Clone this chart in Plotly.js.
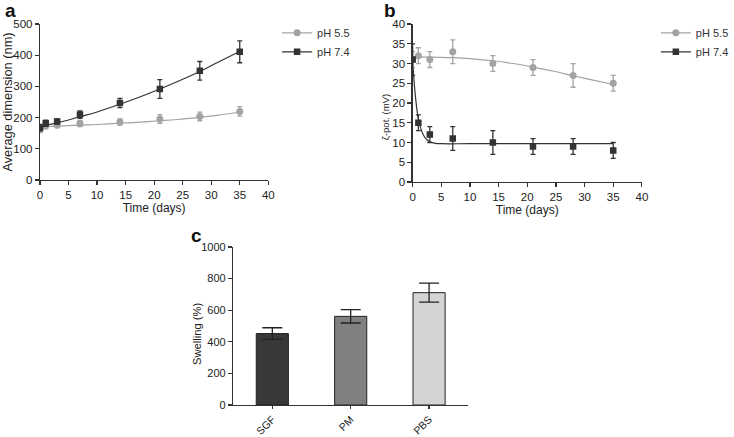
<!DOCTYPE html>
<html><head><meta charset="utf-8">
<script src="https://cdn.plot.ly/plotly-3.0.1.min.js"></script>
<style>html,body{margin:0;padding:0;background:#fff}#chart{width:734px;height:437px}</style>
</head><body><div id="chart"></div>
<script>
// Panel a: average dimension (nm)
const daysA = [0, 1, 3, 7, 14, 21, 28, 35];
const sizePH55 = [162, 174, 176, 181, 186, 196, 204, 220];
const sizePH55Err = [10, 10, 8, 10, 10, 14, 14, 15];
const sizePH74 = [168, 182, 188, 210, 247, 292, 350, 411];
const sizePH74Err = [10, 10, 8, 12, 15, 30, 30, 35];
const fitADays = [0, 3, 7, 10, 14, 17, 21, 24, 28, 31, 35];
const fitA55 = [171, 173, 176, 178, 182, 185, 190, 194, 201, 207, 218];
const fitA74 = [172, 183, 203, 218, 243, 263, 292, 315, 348, 376, 412];

// Panel b: zeta potential (mV)
const daysB = [0, 1, 3, 7, 14, 21, 28, 35];
const zetaPH55 = [31, 32, 31, 33, 30, 29, 27, 25];
const zetaPH55Err = [2, 2, 2, 3, 2, 2, 3, 2];
const zetaPH74 = [31, 15, 12, 11, 10, 9, 9, 8];
const zetaPH74Err = [4, 2, 2, 3, 3, 2, 2, 2];
const fitBDays = [0, 3.5, 7, 10.5, 14, 17.5, 21, 24.5, 28, 31.5, 35];
const fitB55 = [31.7, 31.6, 31.5, 31.2, 30.7, 30.0, 29.1, 28.1, 26.9, 25.8, 24.7];
const fitBDays74 = [0, 0.25, 0.5, 0.75, 1, 1.5, 2, 2.5, 3, 4, 5, 10, 20, 35];
const fitB74 = [31, 25.5, 21.5, 18.3, 16, 13.2, 11.6, 10.7, 10.2, 9.8, 9.7, 9.7, 9.7, 9.7];

// Panel c: swelling (%)
const media = ['SGF', 'PM', 'PBS'];
const swelling = [452, 561, 711];
const swellingErr = [37, 42, 60];
const barColors = ['#383838', '#808080', '#d4d4d4'];

const GRAY = '#a3a3a3', DARK = '#333333';
const FONT = 'Liberation Sans, Arial, sans-serif';

function gapped(xs, ys, es) {
  const x = [], y = [], e = [];
  xs.forEach((v, i) => { x.push(v, null); y.push(ys[i], null); e.push(es[i], 0); });
  return {x, y, e};
}
function dataTrace(xs, ys, es, name, color, sym, xa, ya, leg) {
  const g = gapped(xs, ys, es);
  return {x: g.x, y: g.y, type: 'scatter', mode: 'lines+markers', connectgaps: false, name,
    xaxis: xa, yaxis: ya, legend: leg,
    line: {color, width: 1.2},
    marker: {color, symbol: sym, size: sym === 'square' ? 6.5 : 7},
    error_y: {type: 'data', array: g.e, visible: true, color, thickness: 1.3, width: 2.5}};
}
function fitTrace(xs, ys, color, xa, ya) {
  return {x: xs, y: ys, type: 'scatter', mode: 'lines', line: {color, width: 1.2, shape: 'spline'},
    xaxis: xa, yaxis: ya, showlegend: false, hoverinfo: 'skip'};
}

const traces = [
  fitTrace(fitADays, fitA55, GRAY, 'x', 'y'),
  fitTrace(fitADays, fitA74, DARK, 'x', 'y'),
  dataTrace(daysA, sizePH55, sizePH55Err, 'pH 5.5', GRAY, 'circle', 'x', 'y', 'legend'),
  dataTrace(daysA, sizePH74, sizePH74Err, 'pH 7.4', DARK, 'square', 'x', 'y', 'legend'),
  fitTrace(fitBDays, fitB55, GRAY, 'x2', 'y2'),
  fitTrace(fitBDays74, fitB74, DARK, 'x2', 'y2'),
  dataTrace(daysB, zetaPH55, zetaPH55Err, 'pH 5.5', GRAY, 'circle', 'x2', 'y2', 'legend2'),
  dataTrace(daysB, zetaPH74, zetaPH74Err, 'pH 7.4', DARK, 'square', 'x2', 'y2', 'legend2'),
  {x: media, y: swelling, type: 'bar', xaxis: 'x3', yaxis: 'y3', showlegend: false, width: 0.41,
    marker: {color: barColors, line: {color: '#222', width: 1}},
    error_y: {type: 'data', array: swellingErr, visible: true, color: '#222', thickness: 1.3, width: 10}}
];

const axBase = {showgrid: false, zeroline: false, showline: true, linecolor: '#333', linewidth: 1.2,
  ticks: 'outside', ticklen: 4, tickcolor: '#333', tickwidth: 1.2,
  tickfont: {family: FONT, size: 11.5, color: '#222'}};
const tTitle = (t, s, so) => ({text: t, font: {family: FONT, size: s || 12, color: '#222'}, standoff: so === undefined ? 3 : so});
const vTitle = (t, x, y, s) => ({text: t, x, y, xref: 'paper', yref: 'paper', xanchor: 'center', yanchor: 'middle',
  textangle: -90, showarrow: false, font: {family: FONT, size: s, color: '#222'}});

const layout = {
  width: 734, height: 437, margin: {l: 0, r: 0, t: 0, b: 0},
  paper_bgcolor: '#fff', plot_bgcolor: '#fff', showlegend: true,
  xaxis: Object.assign({}, axBase, {domain: [0.0559, 0.3747], range: [0, 40], dtick: 5, anchor: 'y', title: tTitle('Time (days)')}),
  yaxis: Object.assign({}, axBase, {domain: [0.588, 0.945], range: [0, 500], dtick: 100, anchor: 'x', title: tTitle('Average dimension (nm)', 12.8, 2)}),
  xaxis2: Object.assign({}, axBase, {domain: [0.5763, 0.8965], range: [0, 40], dtick: 5, anchor: 'y2', title: tTitle('Time (days)')}),
  yaxis2: Object.assign({}, axBase, {domain: [0.5835, 0.945], range: [0, 40], dtick: 5, anchor: 'x2'}),
  xaxis3: Object.assign({}, axBase, {domain: [0.3256, 0.654], range: [-0.5, 2.5], anchor: 'y3', tickangle: -45, ticklen: 3,
    tickfont: {family: FONT, size: 10.5, color: '#222'}}),
  yaxis3: Object.assign({}, axBase, {domain: [0.0732, 0.4348], range: [0, 1000], dtick: 200, anchor: 'x3',
    tickfont: {family: FONT, size: 11, color: '#222'}}),
  legend: {x: 0.387, y: 0.958, xanchor: 'left', yanchor: 'top', bgcolor: 'rgba(0,0,0,0)',
    font: {family: FONT, size: 11, color: '#333'}, itemwidth: 30, tracegroupgap: 0},
  legend2: {x: 0.916, y: 0.958, xanchor: 'left', yanchor: 'top', bgcolor: 'rgba(0,0,0,0)',
    font: {family: FONT, size: 11, color: '#333'}, itemwidth: 30, tracegroupgap: 0},
  annotations: [
    vTitle('ζ-pot. (mV)', 0.5395, 0.7323, 9.5),
    vTitle('Swelling (%)', 0.2752, 0.2357, 11.2),
    {text: '<b>a</b>', x: 0.004, y: 1.005, xref: 'paper', yref: 'paper', xanchor: 'left', yanchor: 'top', showarrow: false, font: {family: FONT, size: 19, color: '#111'}},
    {text: '<b>b</b>', x: 0.534, y: 1.005, xref: 'paper', yref: 'paper', xanchor: 'left', yanchor: 'top', showarrow: false, font: {family: FONT, size: 19, color: '#111'}},
    {text: '<b>c</b>', x: 0.264, y: 0.49, xref: 'paper', yref: 'paper', xanchor: 'left', yanchor: 'top', showarrow: false, font: {family: FONT, size: 19, color: '#111'}}
  ]
};

Plotly.newPlot('chart', traces, layout, {staticPlot: true, displayModeBar: false});
</script></body></html>
